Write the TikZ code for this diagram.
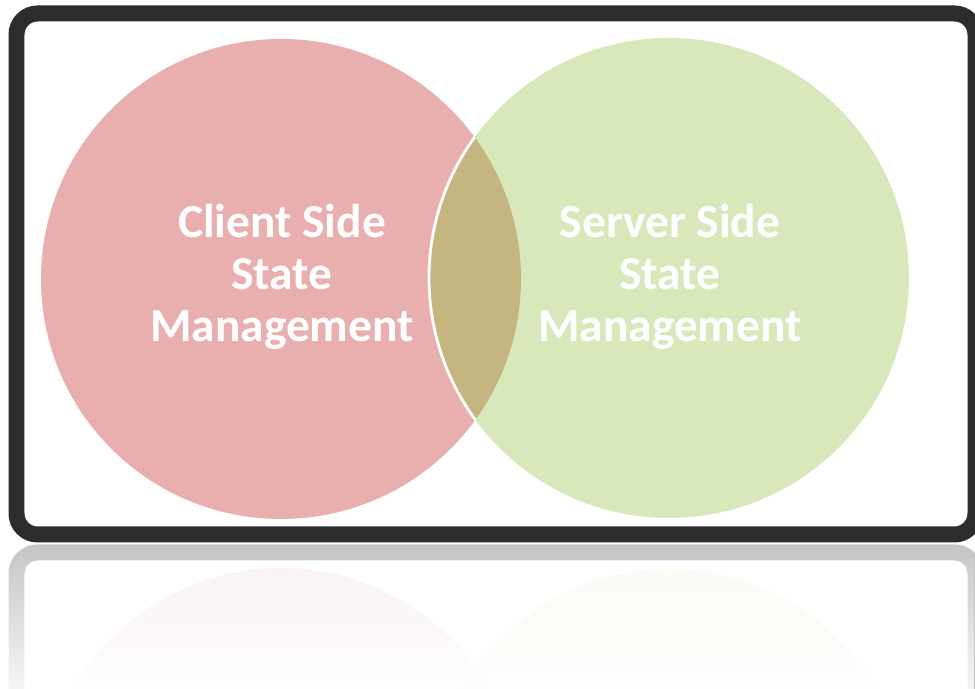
\documentclass[tikz,border=0pt]{standalone}
\usepackage{fontspec}
\setmainfont{Carlito}
\usetikzlibrary{fadings}
\usepackage{xcolor}
\newcommand{\circrad}{240}
\definecolor{clientpink}{RGB}{233,175,175}
\definecolor{servergreen}{RGB}{217,232,186}
\definecolor{lensolive}{RGB}{197,181,128}
\definecolor{framegray}{RGB}{44,44,44}
\tikzfading[name=reflfade, top color=transparent!100, bottom color=transparent!0]
\tikzset{
    framesty/.style={draw=framegray, line width=0.32cm, rounded corners=0.42cm},
    clientsty/.style={fill=clientpink},
    serversty/.style={fill=servergreen},
    lenssty/.style={fill=lensolive},
    rimsty/.style={draw=white, line width=1.6pt},
    labelsty/.style={text=white, align=center, inner sep=0pt,
        font=\bfseries\fontsize{27}{29.6}\selectfont},
    reflsty/.style={opacity=0.27},
    reflcircsty/.style={opacity=0.16},
}

\begin{document}
\begin{tikzpicture}[x=0.02cm, y=0.02cm]
\useasboundingbox (0,0) rectangle (975,689);
\fill[white] (0,0) rectangle (975,689);
\coordinate (cclient) at (281,410);
\coordinate (cserver) at (669,411);
% frame
\draw[framesty] (16.5,154.5) rectangle (975.5,675.5);
% circles
\fill[clientsty] (cclient) circle (\circrad);
\fill[serversty] (cserver) circle (\circrad);
\begin{scope}
  \clip (cclient) circle (\circrad);
  \fill[lenssty] (cserver) circle (\circrad);
\end{scope}
\begin{scope}
  \clip (cclient) circle (\circrad);
  \draw[rimsty] (cserver) circle (\circrad);
\end{scope}
\node[labelsty] (clienttxt) at (282,412) {Client Side\\State\\Management};
\node[labelsty] (servertxt) at (670,412) {Server Side\\State\\Management};
% reflection
\begin{scope}
  \clip (0,0) rectangle (975,145.5);
  \begin{scope}[shift={(0,291)}, yscale=-1]
    \draw[framesty, reflsty] (16.5,154.5) rectangle (975.5,675.5);
    \fill[clientsty, reflcircsty] (281,410) circle (\circrad);
    \fill[serversty, reflcircsty] (669,411) circle (\circrad);
  \end{scope}
  \fill[white, path fading=reflfade, opacity=0.85] (0,-1) rectangle (975,146);
\end{scope}
\end{tikzpicture}
\end{document}
